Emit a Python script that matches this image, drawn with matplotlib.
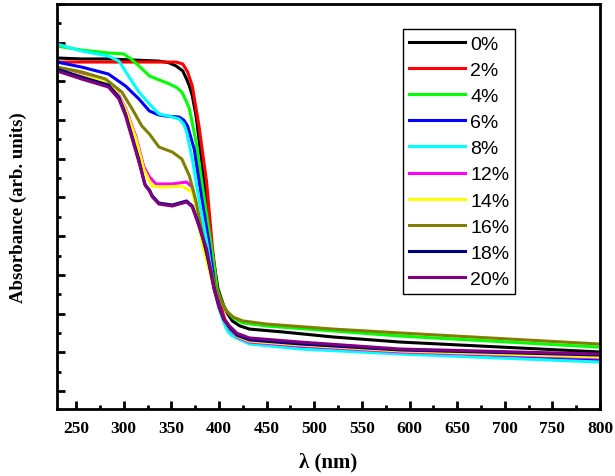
import matplotlib
matplotlib.use("Agg")
import matplotlib.pyplot as plt
from matplotlib.ticker import MultipleLocator

# wavelength (nm) / absorbance (arb. units)
wl_0 = [230, 256, 284, 337, 347, 355, 362, 366, 369, 372, 376, 382, 388, 392, 399, 405, 409, 414, 422, 432, 467, 520, 590, 798]
ab_0 = [1.721, 1.716, 1.716, 1.705, 1.697, 1.680, 1.654, 1.612, 1.576, 1.525, 1.421, 1.183, 0.925, 0.749, 0.527, 0.440, 0.400, 0.362, 0.336, 0.320, 0.305, 0.279, 0.253, 0.202]

wl_2 = [230, 284, 355, 362, 367, 372, 379, 387, 393, 398, 402, 406, 411, 419, 432, 485, 590, 798]
ab_2 = [1.700, 1.700, 1.700, 1.690, 1.650, 1.576, 1.370, 1.080, 0.749, 0.527, 0.439, 0.372, 0.331, 0.293, 0.269, 0.248, 0.212, 0.181]

wl_4 = [230, 256, 284, 300, 308, 316, 327, 340, 348, 356, 361, 366, 369, 376, 382, 392, 398, 404, 409, 415, 425, 450, 520, 590, 798]
ab_4 = [1.783, 1.762, 1.747, 1.742, 1.715, 1.680, 1.628, 1.602, 1.587, 1.567, 1.545, 1.494, 1.457, 1.287, 1.080, 0.749, 0.527, 0.445, 0.408, 0.377, 0.352, 0.336, 0.310, 0.284, 0.227]

wl_6 = [230, 256, 284, 302, 316, 327, 336, 344, 358, 363, 367, 374, 382, 390, 396, 401, 405, 411, 419, 432, 485, 590, 798]
ab_6 = [1.700, 1.674, 1.638, 1.576, 1.509, 1.447, 1.428, 1.421, 1.416, 1.400, 1.370, 1.251, 0.992, 0.749, 0.527, 0.430, 0.365, 0.320, 0.275, 0.248, 0.227, 0.196, 0.160]

wl_8 = [230, 256, 284, 295, 305, 316, 327, 337, 351, 358, 363, 366, 372, 379, 388, 395, 400, 405, 409, 414, 432, 485, 590, 798]
ab_8 = [1.793, 1.757, 1.731, 1.705, 1.628, 1.545, 1.483, 1.432, 1.416, 1.406, 1.380, 1.339, 1.199, 0.992, 0.749, 0.527, 0.425, 0.355, 0.310, 0.284, 0.243, 0.217, 0.191, 0.150]

wl_12 = [230, 256, 281, 292, 302, 313, 321, 327, 334, 351, 366, 372, 377, 385, 395, 400, 405, 411, 419, 432, 485, 590, 798]
ab_12 = [1.669, 1.633, 1.602, 1.555, 1.462, 1.312, 1.160, 1.106, 1.070, 1.070, 1.080, 1.054, 0.941, 0.749, 0.527, 0.435, 0.368, 0.325, 0.280, 0.253, 0.233, 0.202, 0.171]

wl_14 = [230, 256, 281, 292, 302, 313, 321, 327, 330, 340, 361, 372, 376, 377, 383, 395, 400, 405, 411, 419, 432, 485, 590, 798]
ab_14 = [1.664, 1.628, 1.602, 1.550, 1.457, 1.302, 1.147, 1.085, 1.059, 1.054, 1.059, 1.028, 0.956, 0.904, 0.749, 0.527, 0.436, 0.370, 0.328, 0.284, 0.258, 0.238, 0.207, 0.176]

wl_16 = [230, 256, 281, 298, 309, 319, 327, 337, 351, 361, 369, 376, 385, 397, 404, 408, 415, 425, 450, 520, 590, 798]
ab_16 = [1.674, 1.649, 1.612, 1.545, 1.457, 1.370, 1.328, 1.261, 1.235, 1.199, 1.111, 0.977, 0.749, 0.527, 0.450, 0.413, 0.382, 0.362, 0.346, 0.320, 0.300, 0.243]

wl_18 = [230, 256, 284, 295, 302, 309, 316, 322, 327, 330, 337, 351, 366, 372, 379, 386, 395, 400, 405, 411, 419, 432, 485, 590, 798]
ab_18 = [1.664, 1.622, 1.581, 1.519, 1.431, 1.312, 1.193, 1.069, 1.039, 1.008, 0.971, 0.961, 0.982, 0.956, 0.858, 0.739, 0.527, 0.437, 0.371, 0.329, 0.288, 0.264, 0.243, 0.212, 0.186]

wl_20 = [230, 256, 284, 295, 302, 309, 316, 323, 327, 330, 337, 351, 366, 372, 379, 387, 395, 400, 405, 411, 419, 432, 485, 590, 798]
ab_20 = [1.654, 1.612, 1.571, 1.509, 1.421, 1.302, 1.183, 1.059, 1.034, 1.003, 0.966, 0.956, 0.977, 0.951, 0.853, 0.734, 0.527, 0.438, 0.372, 0.336, 0.298, 0.274, 0.253, 0.217, 0.191]

labels = ["0%", "2%", "4%", "6%", "8%", "12%", "14%", "16%", "18%", "20%"]
colors = ["#000000", "#ff0000", "#00ff00", "#0000ff", "#00ffff",
          "#ff00ff", "#ffff00", "#808000", "#000080", "#800080"]
series = [(wl_0, ab_0), (wl_2, ab_2), (wl_4, ab_4), (wl_6, ab_6), (wl_8, ab_8),
          (wl_12, ab_12), (wl_14, ab_14), (wl_16, ab_16), (wl_18, ab_18), (wl_20, ab_20)]

fig = plt.figure(figsize=(6.15, 4.77), dpi=100)
ax = fig.add_axes([0.0927, 0.1405, 0.883, 0.849])

for (x, y), c, lab in zip(series, colors, labels):
    ax.plot(x, y, color=c, lw=2.2, label=lab)

ax.set_xlim(230, 800)
ax.set_ylim(-0.093, 2.0)
ax.xaxis.set_major_locator(MultipleLocator(50))
ax.xaxis.set_minor_locator(MultipleLocator(25))
ax.yaxis.set_major_locator(MultipleLocator(0.2))
ax.yaxis.set_minor_locator(MultipleLocator(0.1))
ax.tick_params(which="both", direction="in", width=2, top=False, right=False)
ax.tick_params(which="major", length=6, pad=8)
ax.tick_params(which="minor", length=3)
ax.set_yticklabels([])
for s in ax.spines.values():
    s.set_linewidth(2)

for t in ax.get_xticklabels():
    t.set_fontfamily("Liberation Serif")
    t.set_fontweight("bold")
    t.set_fontsize(12.5)

ax.set_xlabel("λ (nm)", fontfamily="Liberation Serif", fontweight="bold", fontsize=15)
ax.xaxis.set_label_coords(0.5, -0.105)
ax.set_ylabel("Absorbance (arb. units)", fontfamily="Liberation Serif", fontweight="bold", fontsize=13.5)
ax.yaxis.set_label_coords(-0.055, 0.5)

leg = ax.legend(loc="upper left", bbox_to_anchor=(0.637, 0.938), fancybox=False,
                edgecolor="black", framealpha=1, handlelength=2.9, labelspacing=0.44,
                borderpad=0.3, handletextpad=0.25, borderaxespad=0,
                prop={"family": "Liberation Sans", "size": 14})
leg.get_frame().set_linewidth(1)

fig.savefig("out.png", dpi=100)
